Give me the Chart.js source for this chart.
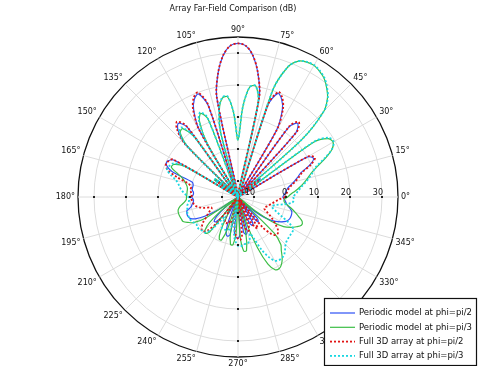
<!DOCTYPE html>
<html>
<head>
<meta charset="utf-8">
<script src="https://cdn.jsdelivr.net/npm/chart.js@4.4.1/dist/chart.umd.min.js"></script>
<style>
  html, body { margin: 0; padding: 0; background: #fff; }
  #wrap { width: 479px; height: 366px; }
</style>
</head>
<body>
<div id="wrap"><canvas id="chart" width="479" height="366"></canvas></div>
<script>
// Far-field gain (dB), one value every 3 degrees,
// angle measured counter-clockwise from the +x axis (0, 3, 6 ... 357).
const ANGLES = Array.from({ length: 120 }, (_, i) => i * 3);

const PERIODIC_PHI2 = [
  -1, -0.5, 0, 0.5, 1.5, 3, 4.5, 6, 9.5, 11.5,
  10, -15, -8, -6, -8, -15, 12, 14.6, 12, -15,
  9, 15.5, 18.5, 19.7, 15, -15, 17, 24.5, 29.5, 32.3,
  33, 32.3, 29.5, 24.5, 17, -15, 15, 19.5, 18.5, 15.5,
  9, -15, 12, 14.6, 13, 8, -15, -7, -6, -15,
  8, 9.7, 9.5, 7, 0, -0.5, -0.5, -0.5, -1, -1,
  -0.5, -1, -1, -0.5, 0, 1.5, 1.8, 1.8, 1.4, 0,
  -3, -8, -15, -10, -6, -4.5, -4.5, -7, -15, -10,
  -9, -15, -12, -6, -3, -2.3, -3, -15, -4, -2.5,
  -2, -3.5, -15, -4, -3, -4, -15, -10, -6, -5,
  -6, -15, -8, -5, -6, -15, -10, -6, -3, -1,
  0.5, 1.8, 2.4, 2.6, 2.6, 2.4, 1.5, 0.5, 0, -0.5,
];

const PERIODIC_PHI3 = [
  0.5, 1.5, 3, 4.5, 6, 7.5, 9, 11.5, 15, 18,
  19.3, 18.5, 14, -15, 12, 23, 26.8, 29, 30.8, 31.8,
  32.5, 32.3, 31.5, 28.6, 20, -15, 15.5, 20.2, 19.5, 13,
  2.8, 11.5, 16.5, 16.3, 13, 6, -15, 11, 13.6, 11.5,
  4, -15, 8, 12.5, 12, 7, -15, -6, -6, -15,
  4, 7.5, 7.8, 5, 3, 2, 1.3, 1, 1, 1,
  1.1, 1.2, 2, 3.3, 4.1, 4.3, 4.2, 4, 3.8, 2.5,
  1, -3, -15, -8, -3, -0.5, 0.3, -1, -15, -10,
  -8, -3, -0.6, -0.6, -5, -15, -4, 0, 0, -4,
  -15, -3, 2, 2, -3, -15, -6, 2, 8, 10.5,
  10.8, 10, 8.5, 6.5, 5, 1, -15, -8, -2, 2,
  4, 5.5, 6.7, 6.5, 5, 3.5, 2, 0.5, -0.5, -0.5,
];

const FULL3D_PHI2 = [
  -0.3, 0, 0.5, 1, 2, 3.5, 5, 6.5, 10, 12,
  10.5, -15, -9, -7, -9, -15, 12.5, 15.2, 12.5, -15,
  9.5, 16, 19, 20.2, 15.5, -15, 17, 24.5, 29.5, 32.3,
  33, 32.3, 29.5, 24.5, 17, -15, 15.5, 20, 19, 16,
  9.5, -15, 12.5, 15.3, 13.5, 8.5, -15, -8, -7, -15,
  8.5, 9.5, 9.7, 8.5, 5, 1, 0, 0, -0.2, -0.5,
  -0.5, -0.5, -0.8, -1, -1.5, -2.5, -4, -6, -6, -5,
  -4, -3, -1.5, -0.5, 0.3, 0.3, -1, -5, -15, -10,
  -7, -6, -6, -7, -6.5, -6.5, -15, -8, -5, -3,
  -2, -1.5, -3, -15, -6, -4, -4, -6, -15, -6,
  -4, -3.5, -15, -3, 0.5, 1.8, 1.8, 1, -0.5, -2,
  -3.5, -5, -6, -6, -5.5, -5, -4.5, -3.8, -3, -2,
];

const FULL3D_PHI3 = [
  2.3, 3, 4, 5, 6.5, 8, 9.5, 11, 14.5, 18,
  19.5, 19, 14.5, -15, 12, 23, 27, 29.2, 31, 32,
  32.6, 32.4, 31.5, 28.6, 20, -15, 15.5, 20.2, 19.5, 13,
  3, 11.5, 16.7, 16.5, 13.5, 6, -15, 11.5, 14, 12,
  4.5, -15, 8.5, 13, 12.5, 7.5, -15, -6, -6, -15,
  5, 8, 8.6, 8.8, 7, 5, 4, 3.3, 2.5, 1.5,
  0.5, 0.3, 0.5, 1, 1.2, 1.4, 1.6, 1.6, 1.6, 1.4,
  1, 0.5, 0.8, 0.8, 0.5, 0.2, 0, -2, -6, -8,
  -5, -4, -4, -4, -4.5, -4.5, -6, -15, -3, -1,
  0.3, 0.5, 0, -0.2, -0.2, -1, -3, -1, 3, 6,
  8, 8.5, 8.5, 8, 7, 6, 5.5, 5.3, 5.2, 5.2,
  5, 3, 0, -2, -3.5, -4, -3, -0.5, 2, 2.5,
];

const RADIAL_TICKS = [-10, 0, 10, 20, 30];
const R_MIN = -15, R_MAX = 35;
const ANGLE_LABELS = [0, 15, 30, 45, 60, 75, 90, 105, 120, 135, 150, 165,
  180, 195, 210, 225, 240, 255, 270, 285, 300, 315, 330, 345];
const TITLE = "Array Far-Field Comparison (dB)";

// The radar scale runs clockwise from its start angle; walk the angles
// backwards so that 0 deg sits on the right and angles grow counter-clockwise.
const N = ANGLES.length;
const order = ANGLES.map((_, i) => (N - i) % N);
const toRadar = (arr) => order.map((k) => arr[k]);

const series = [
  { label: "Periodic model at phi=pi/2", data: PERIODIC_PHI2, color: "rgb(45,80,245)", dash: [], width: 1.2, order: 3 },
  { label: "Periodic model at phi=pi/3", data: PERIODIC_PHI3, color: "rgb(60,190,70)", dash: [], width: 1.2, order: 2 },
  { label: "Full 3D array at phi=pi/2", data: FULL3D_PHI2, color: "rgb(225,20,20)", dash: [2, 2], width: 1.8, order: 1 },
  { label: "Full 3D array at phi=pi/3", data: FULL3D_PHI3, color: "rgb(25,215,225)", dash: [2, 2], width: 1.8, order: 0 },
];

const FONT = '"DejaVu Sans", sans-serif';

const polarDecor = {
  id: "polarDecor",
  afterDraw(chart) {
    const r = chart.scales.r;
    const c = chart.ctx;
    const xc = r.xCenter, yc = r.yCenter, R = r.drawingArea;
    c.save();

    // title, a little left of the polar centre as in the original
    c.font = `8px ${FONT}`;
    c.fillStyle = "#111";
    c.textAlign = "center";
    c.textBaseline = "middle";
    c.fillText(TITLE, 233, 9);

    // small tick marks on the four main axes
    c.fillStyle = "#222";
    for (const deg of [0, 90, 180, 270]) {
      const a = deg * Math.PI / 180;
      for (const v of RADIAL_TICKS) {
        const d = r.getDistanceFromCenterForValue(v);
        c.fillRect(Math.round(xc + d * Math.cos(a)) - 1, Math.round(yc - d * Math.sin(a)) - 1, 2, 2);
      }
    }

    // radial value labels along 0 deg
    c.fillStyle = "#111";
    c.textAlign = "right";
    c.textBaseline = "alphabetic";
    for (const v of RADIAL_TICKS) {
      const d = r.getDistanceFromCenterForValue(v);
      c.fillText(String(v), xc + d + 1, yc - 2);
    }

    // angle labels round the outside
    for (const deg of ANGLE_LABELS) {
      const a = deg * Math.PI / 180;
      const cs = Math.cos(a), sn = Math.sin(a);
      const rr = R + 3;
      c.textAlign = cs > 0.2 ? "left" : cs < -0.2 ? "right" : "center";
      c.textBaseline = sn > 0.2 ? "bottom" : sn < -0.2 ? "top" : "middle";
      c.fillText(`${deg}°`, xc + rr * cs, yc - rr * sn);
    }

    // legend box, bottom right
    const bx = 324.5, by = 298.5, bw = 152, bh = 67;
    c.fillStyle = "#fff";
    c.fillRect(bx, by, bw, bh);
    c.strokeStyle = "#111";
    c.lineWidth = 1.2;
    c.strokeRect(bx, by, bw, bh);
    c.font = `8.5px ${FONT}`;
    c.textAlign = "left";
    c.textBaseline = "middle";
    series.forEach((s, i) => {
      const y = 313 + i * 14.3;
      c.beginPath();
      c.setLineDash(s.dash);
      c.lineWidth = s.width;
      c.strokeStyle = s.color;
      c.moveTo(330, y);
      c.lineTo(355, y);
      c.stroke();
      c.setLineDash([]);
      c.fillStyle = "#111";
      c.fillText(s.label, 359, y);
    });
    c.restore();
  },
};

new Chart(document.getElementById("chart"), {
  type: "radar",
  plugins: [polarDecor],
  data: {
    labels: toRadar(ANGLES.map((a) => `${a}°`)),
    datasets: series.map((s) => ({
      label: s.label,
      data: toRadar(s.data),
      borderColor: s.color,
      backgroundColor: s.color,
      borderWidth: s.width,
      borderDash: s.dash,
      pointRadius: 0,
      fill: false,
      tension: 0.3,
      order: s.order,
    })),
  },
  options: {
    responsive: false,
    devicePixelRatio: 1,
    animation: false,
    layout: { padding: { left: 0, right: 2, top: 37, bottom: 9 } },
    plugins: {
      legend: { display: false },
      tooltip: { enabled: false },
      title: { display: false },
    },
    scales: {
      r: {
        min: R_MIN,
        max: R_MAX,
        startAngle: 90,
        afterBuildTicks: (scale) => {
          scale.ticks = [R_MIN, ...RADIAL_TICKS, R_MAX].map((v) => ({ value: v }));
        },
        ticks: { display: false },
        pointLabels: { display: false },
        grid: {
          circular: true,
          color: (ctx) => (ctx.tick && ctx.tick.value === R_MAX ? "#111" : "#dcdcdc"),
          lineWidth: (ctx) => (ctx.tick && ctx.tick.value === R_MAX ? 1.3 : 1),
        },
        angleLines: {
          color: "#dcdcdc",
          lineWidth: (ctx) => (ctx.index % 5 === 0 ? 1 : 0),
        },
      },
    },
  },
});
</script>
</body>
</html>
